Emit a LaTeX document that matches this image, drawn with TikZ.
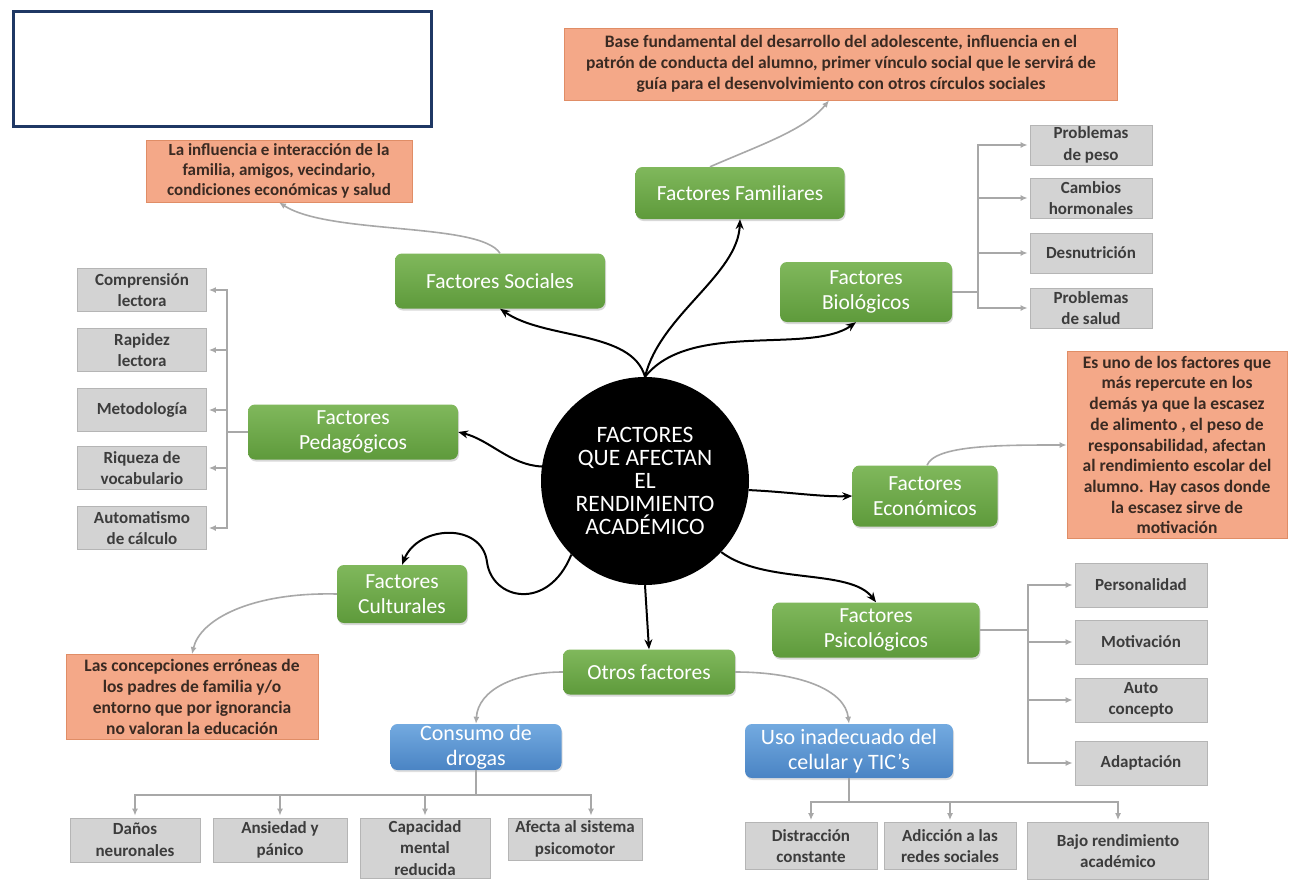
\documentclass[tikz,border=0pt]{standalone}
\usepackage{fontspec}
\setmainfont{Carlito}
\usetikzlibrary{arrows.meta,shadows,calc}
\definecolor{navy}{HTML}{1F3864}
\definecolor{gtop}{HTML}{80B85C}
\definecolor{gbot}{HTML}{5E9A3B}
\definecolor{btop}{HTML}{73AAE0}
\definecolor{bbot}{HTML}{4A84C4}
\definecolor{orfill}{HTML}{F4A888}
\definecolor{ordraw}{HTML}{E08D66}
\definecolor{grfill}{HTML}{D3D3D3}
\definecolor{grdraw}{HTML}{B5B5B5}
\definecolor{conn}{HTML}{A8A8A8}
\definecolor{txtgray}{HTML}{3C3C3C}
\definecolor{txtbrown}{HTML}{3A2A22}
\begin{document}
\begin{tikzpicture}[x=1pt,y=-1pt,
  factor/.style={rounded corners=7pt, top color=gtop, bottom color=gbot, text=white,
    font=\fontsize{21.5}{25}\selectfont, align=center, inner sep=0pt,
    drop shadow={opacity=0.3, shadow xshift=1pt, shadow yshift=-2pt}},
  bluebox/.style={rounded corners=7pt, top color=btop, bottom color=bbot, text=white,
    font=\fontsize{22}{25}\selectfont, align=center, inner sep=0pt,
    drop shadow={opacity=0.25, shadow xshift=1pt, shadow yshift=-2pt}},
  note/.style={fill=orfill, draw=ordraw, line width=0.8pt, text=txtbrown,
    font=\bfseries\fontsize{17.5}{21}\selectfont, align=center, inner sep=0pt},
  item/.style={fill=grfill, draw=grdraw, line width=0.8pt, text=txtgray,
    font=\bfseries\fontsize{17}{21.5}\selectfont, align=center, inner sep=0pt},
  barrow/.style={line width=2pt, -{Stealth[length=10pt,width=8pt]}},
  garrow/.style={draw=conn, line width=1.6pt, -{Latex[length=7pt,width=6pt]}, color=conn},
  gline/.style={draw=conn, line width=1.6pt}
]
\fill[white] (0,0) rectangle (1294,881);
\useasboundingbox (0,0) rectangle (1294,881);

% empty title box
\node[draw=navy, line width=3pt, minimum width=418, minimum height=115, inner sep=0pt] (title) at (222,68.5) {};

% centre
\node[circle, fill=black, minimum size=208, inner sep=0pt, text=white,
  font=\fontsize{23.5}{23}\selectfont, align=center] (circ) at (645,481)
  {FACTORES\\QUE AFECTAN\\EL\\RENDIMIENTO\\ACADÉMICO};

% green factors
\node[factor, minimum width=209, minimum height=52] (fam) at (740,193) {Factores Familiares};
\node[factor, minimum width=210, minimum height=55] (soc) at (500,281) {Factores Sociales};
\node[factor, minimum width=172, minimum height=60] (bio) at (866,292) {Factores\\Biológicos};
\node[factor, minimum width=210, minimum height=55] (ped) at (353,432) {Factores\\Pedagógicos};
\node[factor, minimum width=145, minimum height=61] (eco) at (925,496) {Factores\\Económicos};
\node[factor, minimum width=130, minimum height=58] (cul) at (402,594) {Factores\\Culturales};
\node[factor, minimum width=207, minimum height=55] (psi) at (876,630) {Factores\\Psicológicos};
\node[factor, minimum width=172, minimum height=45] (otr) at (649,672) {Otros factores};

% blue
\node[bluebox, minimum width=171, minimum height=46] (con) at (476,747) {Consumo de\\drogas};
\node[bluebox, minimum width=208, minimum height=54] (uso) at (849,751) {Uso inadecuado del\\celular y TIC’s};

% orange notes
\node[note, minimum width=553, minimum height=72] (n1) at (841,64)
  {Base fundamental del desarrollo del adolescente, influencia en el\\patrón de conducta del alumno, primer vínculo social que le servirá de\\guía para el desenvolvimiento con otros círculos sociales};
\node[note, minimum width=266, minimum height=62, font=\bfseries\fontsize{17}{20}\selectfont] (n2) at (279,171)
  {La influencia e interacción de la\\familia, amigos, vecindario,\\condiciones económicas y salud};
\node[note, minimum width=220, minimum height=187, font=\bfseries\fontsize{17.5}{20.7}\selectfont] (n3) at (1177,445)
  {Es uno de los factores que\\más repercute en los\\demás ya que la escasez\\de alimento , el peso de\\responsabilidad, afectan\\al rendimiento escolar del\\alumno. Hay casos donde\\la escasez sirve de\\motivación};
\node[note, minimum width=252, minimum height=85] (n4) at (192,697)
  {Las concepciones erróneas de\\los padres de familia y/o\\entorno que por ignorancia\\no valoran la educación};

% grey items - biological
\node[item, minimum width=122, minimum height=40] (g1) at (1091,145) {Problemas\\de peso};
\node[item, minimum width=122, minimum height=40] (g2) at (1091,198) {Cambios\\hormonales};
\node[item, minimum width=122, minimum height=40] (g3) at (1091,253) {Desnutrición};
\node[item, minimum width=122, minimum height=40] (g4) at (1091,308) {Problemas\\de salud};
% pedagogical
\node[item, minimum width=129, minimum height=43] (p1) at (142,290) {Comprensión\\lectora};
\node[item, minimum width=129, minimum height=43] (p2) at (142,350) {Rapidez\\lectora};
\node[item, minimum width=129, minimum height=43] (p3) at (142,410) {Metodología};
\node[item, minimum width=129, minimum height=43] (p4) at (142,468) {Riqueza de\\vocabulario};
\node[item, minimum width=129, minimum height=43] (p5) at (142,528) {Automatismo\\de cálculo};
% psychological
\node[item, minimum width=132, minimum height=44] (s1) at (1141,585) {Personalidad};
\node[item, minimum width=132, minimum height=44] (s2) at (1141,642) {Motivación};
\node[item, minimum width=132, minimum height=44] (s3) at (1141,700) {Auto\\concepto};
\node[item, minimum width=132, minimum height=44] (s4) at (1141,763) {Adaptación};
% drugs
\node[item, minimum width=130, minimum height=44] (d1) at (135,840) {Daños\\neuronales};
\node[item, minimum width=134, minimum height=44] (d2) at (280,840) {Ansiedad y\\pánico};
\node[item, minimum width=130, minimum height=60] (d3) at (425,848) {Capacidad\\mental\\reducida};
\node[item, minimum width=134, minimum height=42] (d4) at (575,839) {Afecta al sistema\\psicomotor};
% tic
\node[item, minimum width=132, minimum height=47] (t1) at (811,846) {Distracción\\constante};
\node[item, minimum width=132, minimum height=47] (t2) at (950,846) {Adicción a las\\redes sociales};
\node[item, minimum width=181, minimum height=57] (t3) at (1118,851) {Bajo rendimiento\\académico};

% black connectors
\draw[barrow] (circ.north) .. controls (632,330) and (545,340) .. (soc.south);
\draw[barrow] (circ.north) .. controls (660,315) and (738,275) .. (fam.south);
\draw[barrow] (circ.north) .. controls (690,320) and (810,355) .. ($(bio.south)+(-10,0)$);
\draw[barrow] (circ.172) .. controls (510,465) and (490,440) .. (ped.east);
\draw[barrow] (circ.-5) .. controls (790,492) and (820,497) .. (eco.west);
\draw[barrow] (circ.-43) .. controls (765,585) and (850,568) .. (psi.north);
\draw[barrow] (circ.south) -- (otr.north);
\draw[barrow] (circ.225) .. controls (548,612) and (492,600) .. (487,562)
  .. controls (482,522) and (418,525) .. (cul.north);

% grey connectors to notes
\draw[garrow] ($(fam.north)+(-30,0)$) .. controls (760,145) and (805,130) .. ($(n1.south)+(-12,0)$);
\draw[garrow] (soc.north) .. controls (480,222) and (330,235) .. (n2.south);
\draw[garrow] ($(eco.north)+(2,0)$) .. controls (935,445) and (1000,445) .. (n3.west);
\draw[garrow] (cul.west) .. controls (250,592) and (200,620) .. (n4.north);
\draw[garrow] (otr.west) .. controls (515,672) and (478,690) .. (con.north);
\draw[garrow] (otr.east) .. controls (800,672) and (845,690) .. (uso.north);

% branch: biological
\coordinate (bj) at (978,292);
\draw[gline] (bio.east) -- (bj);
\foreach \n in {g1,g2,g3,g4} \draw[garrow] (bj) |- ($(\n.west)+(-2,0)$);
% branch: pedagogical
\coordinate (pj) at (227,432);
\draw[gline] (ped.west) -- (pj);
\foreach \n in {p1,p2,p3,p4,p5} \draw[garrow] (pj) |- ($(\n.east)+(2,0)$);
% branch: psychological
\coordinate (sj) at (1028,630);
\draw[gline] (psi.east) -- (sj);
\foreach \n in {s1,s2,s3,s4} \draw[garrow] (sj) |- ($(\n.west)+(-2,0)$);
% branch: drugs
\coordinate (cj) at (476,795);
\draw[gline] (con.south) -- (cj);
\foreach \n in {d1,d2,d3} \draw[garrow] (cj) -| ($(\n.north)+(0,-2)$);
\draw[garrow] (cj) -| ($(d4.north)+(16,-2)$);
% branch: tic
\coordinate (tj) at (849,802);
\draw[gline] (uso.south) -- (tj);
\foreach \n in {t1,t2,t3} \draw[garrow] (tj) -| ($(\n.north)+(0,-2)$);
\end{tikzpicture}
\end{document}
